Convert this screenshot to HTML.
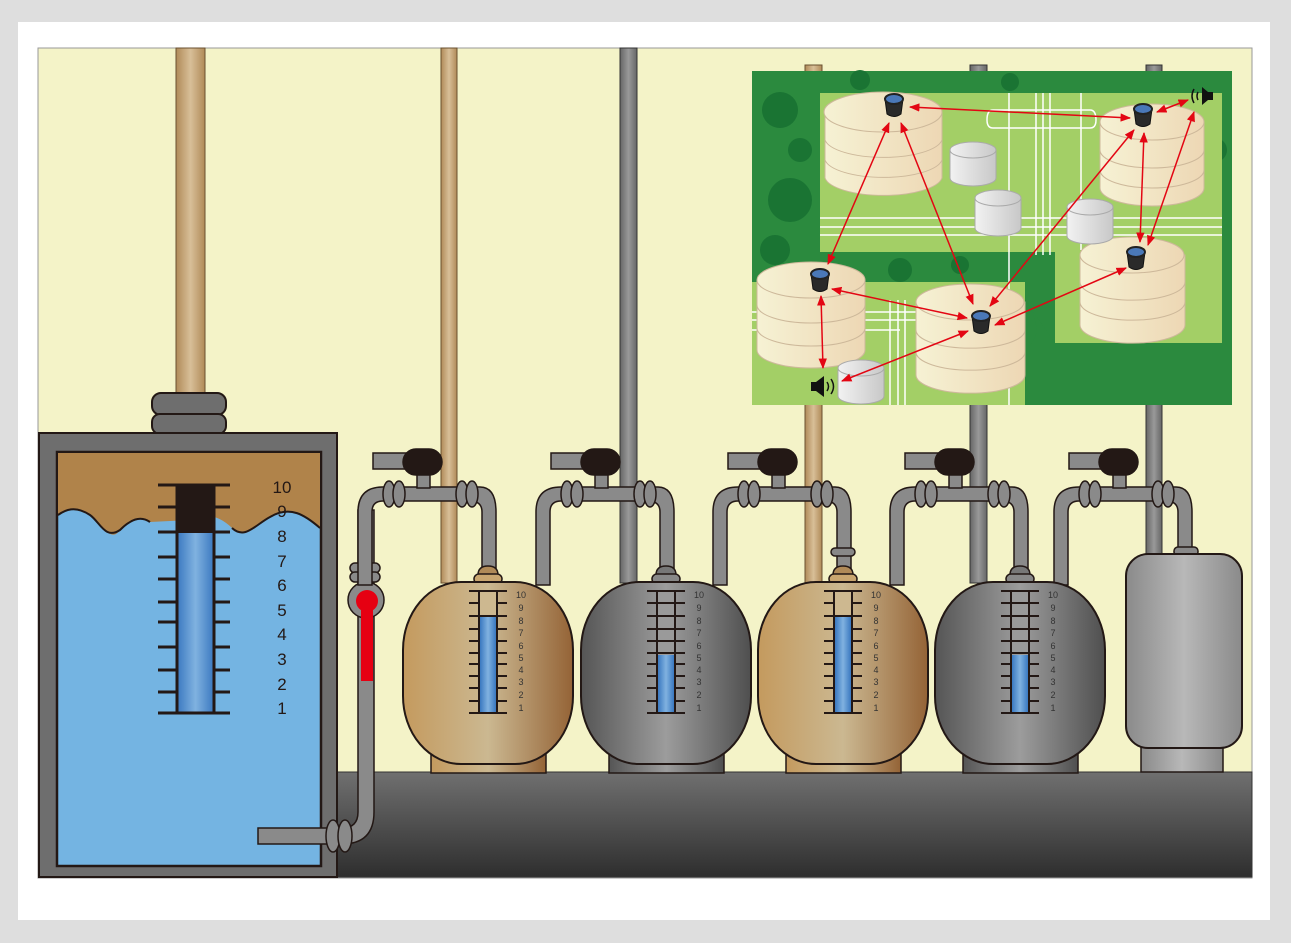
<!DOCTYPE html>
<html><head><meta charset="utf-8"><style>
html,body{margin:0;padding:0;background:#dedede;}
svg{display:block;font-family:"Liberation Sans",sans-serif;}
</style></head><body>
<svg width="1291" height="943" viewBox="0 0 1291 943" xmlns="http://www.w3.org/2000/svg">
<defs>
<linearGradient id="tan" x1="0" x2="1"><stop offset="0" stop-color="#c49a5e"/><stop offset="0.5" stop-color="#cbb891"/><stop offset="1" stop-color="#946336"/></linearGradient>
<linearGradient id="gry" x1="0" x2="1"><stop offset="0" stop-color="#555"/><stop offset="0.5" stop-color="#9c9c9c"/><stop offset="1" stop-color="#4f4f4f"/></linearGradient>
<linearGradient id="lgry" x1="0" x2="1"><stop offset="0" stop-color="#8a8a8a"/><stop offset="0.5" stop-color="#b8b8b8"/><stop offset="1" stop-color="#8a8a8a"/></linearGradient>
<linearGradient id="blu" x1="0" x2="1"><stop offset="0" stop-color="#3a78c0"/><stop offset="0.5" stop-color="#80b2e0"/><stop offset="1" stop-color="#3a78c0"/></linearGradient>
<linearGradient id="tpipe" x1="0" x2="1"><stop offset="0" stop-color="#b08a58"/><stop offset="0.5" stop-color="#d8bf98"/><stop offset="1" stop-color="#b08a58"/></linearGradient>
<linearGradient id="gpipe" x1="0" x2="1"><stop offset="0" stop-color="#666"/><stop offset="0.5" stop-color="#999"/><stop offset="1" stop-color="#666"/></linearGradient>
<linearGradient id="bigp" x1="0" y1="0" x2="0" y2="1"><stop offset="0" stop-color="#707070"/><stop offset="1" stop-color="#2e2e2e"/></linearGradient>
<linearGradient id="cream" x1="0" x2="1"><stop offset="0" stop-color="#f6f2d4"/><stop offset="1" stop-color="#edd7b4"/></linearGradient>
<linearGradient id="wc" x1="0" x2="1"><stop offset="0" stop-color="#f2f2f2"/><stop offset="1" stop-color="#c8c8c8"/></linearGradient>
<marker id="ar" viewBox="0 0 10 10" refX="9" refY="5" markerWidth="7" markerHeight="7" orient="auto-start-reverse"><path d="M0,1 L10,5 L0,9 Z" fill="#e30613"/></marker>
</defs>
<rect x="18" y="22" width="1252" height="898" fill="#fff"/>
<rect x="38" y="48" width="1214" height="830" fill="#f4f3c8" stroke="#999" stroke-width="1"/>

<rect x="176" y="48" width="29" height="350" fill="url(#tpipe)" stroke="#6a5030" stroke-width="1"/>
<rect x="441" y="48" width="16" height="535" fill="url(#tpipe)" stroke="#6a5030"/>
<rect x="620" y="48" width="17" height="535" fill="url(#gpipe)" stroke="#333"/>
<rect x="805" y="65" width="17" height="518" fill="url(#tpipe)" stroke="#6a5030"/>
<rect x="970" y="65" width="17" height="518" fill="url(#gpipe)" stroke="#333"/>
<rect x="1146" y="65" width="16" height="495" fill="url(#gpipe)" stroke="#333"/>

<rect x="152" y="393" width="74" height="22" rx="9" fill="#6e6e6e" stroke="#231815" stroke-width="2"/>
<rect x="152" y="414" width="74" height="20" rx="8" fill="#6e6e6e" stroke="#231815" stroke-width="2"/>

<rect x="320" y="772" width="932" height="105" fill="url(#bigp)" stroke="#333"/>

<rect x="39" y="433" width="298" height="444" fill="#6e6e6e" stroke="#231815" stroke-width="2"/>
<rect x="57" y="452" width="264" height="414" fill="#74b4e2" stroke="#231815" stroke-width="2.5"/>
<path d="M58,453 H320 V528 C305,515 290,505 270,517 C255,525 245,540 232,528 C220,516 205,512 190,520 L150,522 C140,515 130,520 120,530 C110,545 100,520 90,515 C75,505 65,510 58,515 Z" fill="#b0834a"/>
<path d="M58,515 C65,510 75,505 90,515 C100,522 105,540 120,530 C130,520 140,515 150,522 M232,528 C245,540 255,525 270,517 C290,505 305,515 320,528" fill="none" stroke="#231815" stroke-width="2"/>
<g stroke="#231815" stroke-width="3">
<path d="M158,485H177M214,485H230M158,507H177M214,507H230M158,532H177M214,532H230M158,557H177M214,557H230M158,579H177M214,579H230M158,602H177M214,602H230M158,622H177M214,622H230M158,647H177M214,647H230M158,670H177M214,670H230M158,692H177M214,692H230M158,713H230"/>
</g>
<rect x="177" y="485" width="37" height="228" fill="url(#blu)" stroke="#231815" stroke-width="3"/>
<rect x="177" y="485" width="37" height="48" fill="#231815"/>
<g font-size="17" fill="#231815" text-anchor="middle">
<text x="282" y="493">10</text><text x="282" y="517">9</text><text x="282" y="542">8</text><text x="282" y="567">7</text><text x="282" y="591">6</text><text x="282" y="616">5</text><text x="282" y="640">4</text><text x="282" y="665">3</text><text x="282" y="690">2</text><text x="282" y="714">1</text>
</g>

<g stroke="#231815" stroke-width="1.5" fill="#8a8a8a">
<path d="M358,510 V812 Q358,828 342,828 H258 V844 H342 Q374,844 374,812 V510 Z" fill="#8a8a8a"/>
<rect x="350" y="563" width="30" height="10" rx="5"/><rect x="350" y="572" width="30" height="10" rx="5"/>
<circle cx="366" cy="600" r="18"/>
<ellipse cx="333" cy="836" rx="7" ry="16"/><ellipse cx="345" cy="836" rx="7" ry="16"/>
</g>
<circle cx="367" cy="601" r="11" fill="#e60012"/>
<rect x="361" y="601" width="12" height="80" fill="#e60012"/>

<g id="u1">
<g stroke="#231815" stroke-width="1.5" fill="#8a8a8a">
<path d="M358,585 V512 Q358,487 383,487 H480 Q496,487 496,512 V575 H482 V512 Q482,501 470,501 H383 Q372,501 372,512 V585 Z"/>
<rect x="373" y="453" width="40" height="16"/>
<rect x="417" y="468" width="13" height="20"/>
<rect x="403" y="449" width="39" height="26" rx="13" fill="#231815"/>
<ellipse cx="389" cy="494" rx="6" ry="13"/><ellipse cx="399" cy="494" rx="6" ry="13"/>
<ellipse cx="462" cy="494" rx="6" ry="13"/><ellipse cx="472" cy="494" rx="6" ry="13"/>
</g>
</g>
<use href="#u1" x="178"/>
<use href="#u1" x="355"/>
<use href="#u1" x="532"/>
<use href="#u1" x="696"/>

<g id="t1">
<path d="M478,575 Q478,566 488,566 Q498,566 498,575 Z" fill="#b08a58" stroke="#231815" stroke-width="1.5"/>
<rect x="474" y="574" width="28" height="10" rx="5" fill="#c9a670" stroke="#231815" stroke-width="1.5"/>
<rect x="431" y="745" width="115" height="28" fill="url(#tan)" stroke="#231815" stroke-width="1.5"/>
<rect x="403" y="582" width="170" height="182" rx="58" ry="68" fill="url(#tan)" stroke="#231815" stroke-width="2"/>
<path d="M469,591H507M469,603H479M497,603H507M469,616H479M497,616H507M469,629H479M497,629H507M469,641H479M497,641H507M469,653H479M497,653H507M469,664H479M497,664H507M469,676H479M497,676H507M469,688H479M497,688H507M469,701H479M497,701H507M469,713H507" stroke="#231815" stroke-width="2"/>
<rect x="479" y="591" width="18" height="122" fill="#cdb890" stroke="#231815" stroke-width="2"/>
<rect x="480" y="617" width="16" height="95" fill="url(#blu)"/>
<line x1="479" y1="616" x2="497" y2="616" stroke="#231815" stroke-width="2"/>
<g font-size="9" fill="#333" text-anchor="middle"><text x="521" y="598">10</text><text x="521" y="611">9</text><text x="521" y="624">8</text><text x="521" y="636">7</text><text x="521" y="649">6</text><text x="521" y="661">5</text><text x="521" y="673">4</text><text x="521" y="685">3</text><text x="521" y="698">2</text><text x="521" y="711">1</text></g>
</g>
<g id="t2">
<path d="M656,575 Q656,566 666,566 Q676,566 676,575 Z" fill="#777" stroke="#231815" stroke-width="1.5"/>
<rect x="652" y="574" width="28" height="10" rx="5" fill="#888" stroke="#231815" stroke-width="1.5"/>
<rect x="609" y="745" width="115" height="28" fill="url(#gry)" stroke="#231815" stroke-width="1.5"/>
<rect x="581" y="582" width="170" height="182" rx="58" ry="68" fill="url(#gry)" stroke="#231815" stroke-width="2"/>
<rect x="657" y="591" width="18" height="122" fill="#9a9a9a" stroke="#231815" stroke-width="2"/>
<rect x="658" y="655" width="16" height="57" fill="url(#blu)"/>
<path d="M647,591H685M647,603H657M675,603H685M657,603H675M647,616H657M675,616H685M657,616H675M647,629H657M675,629H685M657,629H675M647,641H657M675,641H685M657,641H675M647,653H685M647,664H657M675,664H685M647,676H657M675,676H685M647,688H657M675,688H685M647,701H657M675,701H685M647,713H685" stroke="#231815" stroke-width="2"/>
<g font-size="9" fill="#333" text-anchor="middle"><text x="699" y="598">10</text><text x="699" y="611">9</text><text x="699" y="624">8</text><text x="699" y="636">7</text><text x="699" y="649">6</text><text x="699" y="661">5</text><text x="699" y="673">4</text><text x="699" y="685">3</text><text x="699" y="698">2</text><text x="699" y="711">1</text></g>
</g>
<use href="#t1" x="355"/>
<use href="#t2" x="354"/>
<rect x="831" y="548" width="24" height="8" rx="4" fill="#888" stroke="#231815" stroke-width="1.5"/>

<rect x="1174" y="547" width="24" height="9" rx="4" fill="#888" stroke="#231815" stroke-width="1.5"/>
<rect x="1141" y="740" width="82" height="32" fill="url(#lgry)" stroke="#231815" stroke-width="1.5"/>
<rect x="1126" y="554" width="116" height="194" rx="22" fill="url(#lgry)" stroke="#231815" stroke-width="2"/>

<!-- map -->
<rect x="752" y="71" width="480" height="334" fill="#2b8a3e"/>
<g fill="#1a7433">
<circle cx="780" cy="110" r="18"/><circle cx="790" cy="200" r="22"/><circle cx="775" cy="250" r="15"/><circle cx="1215" cy="150" r="12"/><circle cx="1100" cy="380" r="20"/><circle cx="1180" cy="370" r="18"/><circle cx="900" cy="270" r="12"/><circle cx="1050" cy="390" r="14"/><circle cx="800" cy="150" r="12"/><circle cx="1140" cy="385" r="12"/><circle cx="960" cy="265" r="9"/><circle cx="860" cy="80" r="10"/><circle cx="1010" cy="82" r="9"/>
</g>
<path d="M820,93 H1222 V343 H1055 V252 H820 Z" fill="#a3cf66"/>
<path d="M752,282 H1025 V405 H752 Z" fill="#a3cf66"/>
<path d="M1025,300 Q1045,330 1030,345 L1025,405 H1232 V343 H1055 Z" fill="#2b8a3e"/>
<g stroke="#fff" stroke-width="1.5" fill="none">
<path d="M820,218 H1222 M820,227 H1222 M820,235 H1222"/>
<path d="M1009,93 V405 M1036,93 V255 M1043,93 V255 M1050,93 V255 M1081,93 V250"/>
<path d="M993,110 H1090 Q1096,110 1096,120 Q1096,128 1090,128 H993 Q987,128 987,120 Q987,110 993,110 Z"/>
<path d="M752,312 H1025 M752,320 H1025 M752,330 H900 M890,300 V405 M898,300 V405 M905,300 V405"/>
</g>
<g stroke="#cdb89a" stroke-width="1">
<path d="M825,112 V178 A59,20 0 0 0 942,178 V112 Z" fill="url(#cream)"/><ellipse cx="883" cy="112" rx="59" ry="20" fill="url(#cream)"/>
<path d="M825,140 A59,20 0 0 0 942,140 M825,160 A59,20 0 0 0 942,160" fill="none"/>
<path d="M1100,122 V188 A52,18 0 0 0 1204,188 V122 Z" fill="url(#cream)"/><ellipse cx="1152" cy="122" rx="52" ry="18" fill="url(#cream)"/>
<path d="M1100,150 A52,18 0 0 0 1204,150 M1100,170 A52,18 0 0 0 1204,170" fill="none"/>
<path d="M757,280 V350 A54,18 0 0 0 865,350 V280 Z" fill="url(#cream)"/><ellipse cx="811" cy="280" rx="54" ry="18" fill="url(#cream)"/>
<path d="M757,305 A54,18 0 0 0 865,305 M757,328 A54,18 0 0 0 865,328" fill="none"/>
<path d="M916,302 V375 A54,18 0 0 0 1025,375 V302 Z" fill="url(#cream)"/><ellipse cx="970" cy="302" rx="54" ry="18" fill="url(#cream)"/>
<path d="M916,330 A54,18 0 0 0 1025,330 M916,352 A54,18 0 0 0 1025,352" fill="none"/>
<path d="M1080,255 V325 A52,18 0 0 0 1185,325 V255 Z" fill="url(#cream)"/><ellipse cx="1132" cy="255" rx="52" ry="18" fill="url(#cream)"/>
<path d="M1080,282 A52,18 0 0 0 1185,282 M1080,302 A52,18 0 0 0 1185,302" fill="none"/>
</g>
<g stroke="#aaa" stroke-width="1">
<path d="M950,150 V178 A23,8 0 0 0 996,178 V150 Z" fill="url(#wc)"/><ellipse cx="973" cy="150" rx="23" ry="8" fill="url(#wc)"/>
<path d="M975,198 V228 A23,8 0 0 0 1021,228 V198 Z" fill="url(#wc)"/><ellipse cx="998" cy="198" rx="23" ry="8" fill="url(#wc)"/>
<path d="M1067,207 V236 A23,8 0 0 0 1113,236 V207 Z" fill="url(#wc)"/><ellipse cx="1090" cy="207" rx="23" ry="8" fill="url(#wc)"/>
<path d="M838,368 V396 A23,8 0 0 0 884,396 V368 Z" fill="url(#wc)"/><ellipse cx="861" cy="368" rx="23" ry="8" fill="url(#wc)"/>
</g>
<g stroke="#e30613" stroke-width="1.5" marker-start="url(#ar)" marker-end="url(#ar)">
<line x1="910" y1="107" x2="1130" y2="118"/>
<line x1="889" y1="123" x2="828" y2="264"/>
<line x1="901" y1="123" x2="973" y2="304"/>
<line x1="1144" y1="133" x2="1140" y2="242"/>
<line x1="1134" y1="130" x2="990" y2="306"/>
<line x1="1194" y1="112" x2="1148" y2="245"/>
<line x1="1157" y1="112" x2="1188" y2="100"/>
<line x1="832" y1="289" x2="967" y2="318"/>
<line x1="821" y1="296" x2="823" y2="368"/>
<line x1="842" y1="381" x2="968" y2="331"/>
<line x1="995" y1="325" x2="1126" y2="268"/>
</g>
<g id="sn"><path d="M885,99 L887,114 Q894,119 901,114 L903,99 Z" fill="#2a2a2a" stroke="#111"/><ellipse cx="894" cy="99" rx="9" ry="5" fill="#4a78b8" stroke="#222" stroke-width="2"/></g>
<use href="#sn" x="249" y="10"/>
<use href="#sn" x="-74" y="175"/>
<use href="#sn" x="87" y="217"/>
<use href="#sn" x="242" y="153"/>
<g fill="#111"><rect x="811" y="382" width="5" height="9"/><path d="M816,382 L824,376 V397 L816,391 Z"/></g>
<path d="M827,382 Q830,386.5 827,391 M831,379 Q836,386.5 831,394" stroke="#111" stroke-width="1.5" fill="none"/>
<g fill="#111"><rect x="1208" y="92" width="5" height="8"/><path d="M1208,92 L1202,87 V105 L1208,100 Z"/></g>
<path d="M1198,92 Q1196,96 1198,100 M1194,89 Q1190,96 1194,103" stroke="#111" stroke-width="1.5" fill="none"/>
</svg>
</body></html>
